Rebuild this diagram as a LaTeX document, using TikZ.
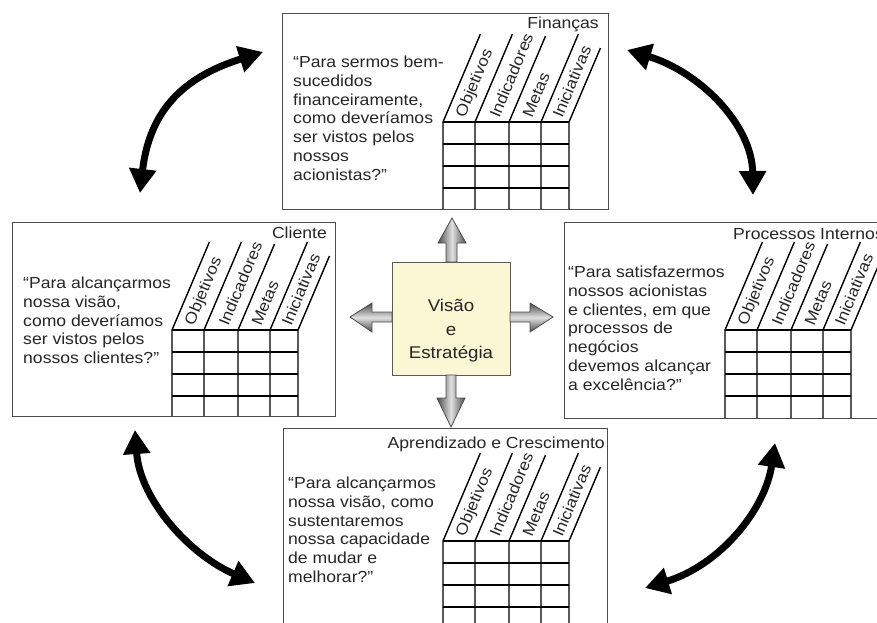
\documentclass[tikz,border=0pt]{standalone}
\usepackage{fontspec}
\setmainfont{Liberation Sans}[FakeStretch=1.1]
\usetikzlibrary{arrows.meta}
\definecolor{visfill}{RGB}{250,247,212}
\newcommand\bscgrid[3]{%
  \foreach \dx/\h in {0/88,32/88,66/86,98/88,126/74}{
    \draw[gridline] (#1+\dx,#3) -- (#1+\dx,#2) -- ++(0.425*\h,-\h);
  }
  \foreach \dy in {0,22,44,66}{
    \draw[gridline] (#1,#2+\dy) -- (#1+126,#2+\dy);
  }
  \foreach \dx/\t in {16/Objetivos,49/Indicadores,82/Metas,112/Iniciativas}{
    \node[hdr] at (#1+\dx+2,#2-5) {\t};
  }
}
\begin{document}
\begin{tikzpicture}[x=1pt,y=-1pt,
  box/.style={draw=black!70, line width=1.3pt, inner sep=0, anchor=north west},
  gridline/.style={black, line width=1.4pt},
  txt/.style={anchor=north west, inner sep=0, align=left, text=black!85, font=\fontsize{16}{18.7}\selectfont},
  ttl/.style={inner sep=0, text=black!85, font=\fontsize{16}{18.7}\selectfont},
  hdr/.style={anchor=west, inner sep=0, rotate=67.4, text=black!85, font=\fontsize{15.8}{17}\selectfont},
  curvarrow/.style={line width=7pt, {Triangle[length=24pt,width=26pt]}-{Triangle[length=24pt,width=26pt]}},
  garrow/.style={draw=black!70, line width=0.8pt}
]
\useasboundingbox (0,0) rectangle (877,622);

% boxes
\node[box, minimum width=326pt, minimum height=196pt] (fin) at (282,13) {};
\node[box, minimum width=323pt, minimum height=194pt] (cli) at (12,222) {};
\node[box, minimum width=330pt, minimum height=196pt] (pro) at (564,222) {};
\node[box, minimum width=324pt, minimum height=220pt] (apr) at (283,428) {};

% grids
\bscgrid{443}{122}{209}
\bscgrid{172}{330}{416}
\bscgrid{725}{330}{418}
\bscgrid{443}{541}{640}
\draw[gridline] (443,630) -- (569,630);

% titles
\node[ttl, anchor=east] (fint) at (599,24) {Finanças};
\node[ttl, anchor=east] (clit) at (327,233) {Cliente};
\node[ttl, anchor=west] (prot) at (733,234) {Processos Internos};
\node[ttl, anchor=east] (aprt) at (605,444) {Aprendizado e Crescimento};

% questions
\node[txt] (finq) at (293,56) {“Para sermos bem-\\sucedidos\\financeiramente,\\como deveríamos\\ser vistos pelos\\nossos\\acionistas?"};
\node[txt] (cliq) at (23,277) {“Para alcançarmos\\nossa visão,\\como deveríamos\\ser vistos pelos\\nossos clientes?"};
\node[txt] (proq) at (568,266) {“Para satisfazermos\\nossos acionistas\\e clientes, em que\\processos de\\negócios\\devemos alcançar\\a excelência?"};
\node[txt] (aprq) at (288,477) {“Para alcançarmos\\nossa visão, como\\sustentaremos\\nossa capacidade\\de mudar e\\melhorar?"};

% centre
\node[draw=black!65, line width=1.2pt, fill=visfill, minimum width=118pt, minimum height=113pt, anchor=north west, inner sep=0] (vis) at (392,262) {};
\node[inner sep=0, align=center, text=black!85, font=\fontsize{17}{23.5}\selectfont] (vist) at (451,331) {Visão\\e\\Estratégia};

% grey arrows
\path[garrow, left color=black!70, right color=black!70, middle color=gray!25]
  (446,262) -- (446,243) -- (438,243) -- (452,218) -- (466,243) -- (457,243) -- (457,262) -- cycle;
\path[garrow, left color=black!70, right color=black!70, middle color=gray!25]
  (446,375) -- (446,398) -- (437,398) -- (451,427) -- (465,398) -- (456,398) -- (456,375) -- cycle;
\path[garrow, top color=black!70, bottom color=black!70, middle color=gray!25]
  (392,312) -- (372,312) -- (372,303) -- (350,317) -- (372,332) -- (372,322) -- (392,322) -- cycle;
\path[garrow, top color=black!70, bottom color=black!70, middle color=gray!25]
  (510,312) -- (530,312) -- (530,303) -- (553,317) -- (530,332) -- (530,322) -- (510,322) -- cycle;

% curved double arrows
\coordinate (tlA) at (140,193); \coordinate (tlB) at (263,52);
\coordinate (trA) at (627,50);  \coordinate (trB) at (753,195);
\coordinate (blA) at (135,430); \coordinate (blB) at (255,583);
\coordinate (brA) at (775,443); \coordinate (brB) at (645,588);
\draw[curvarrow] (tlA) .. controls (150,105) and (190,75) .. (tlB);
\draw[curvarrow] (trA) .. controls (700,72) and (752,125) .. (trB);
\draw[curvarrow] (blA) .. controls (140,500) and (190,555) .. (blB);
\draw[curvarrow] (brA) .. controls (765,510) and (720,565) .. (brB);
\end{tikzpicture}
\end{document}
